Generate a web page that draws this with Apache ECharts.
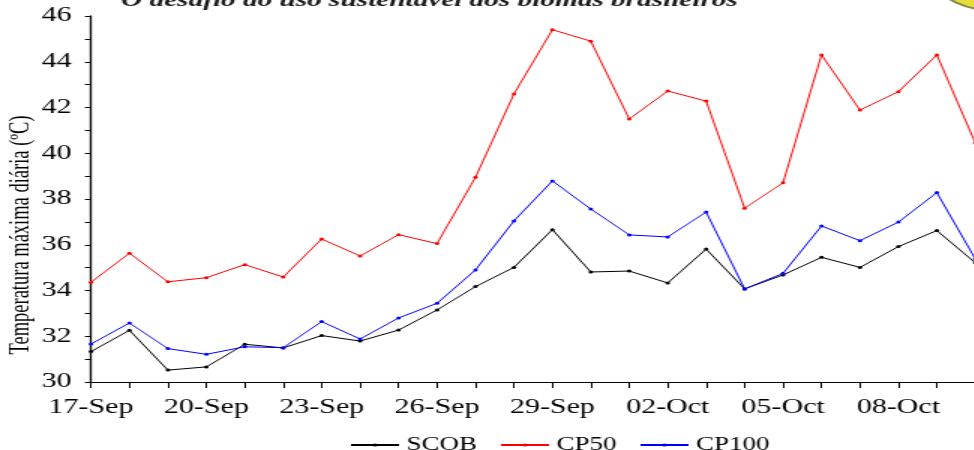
<!DOCTYPE html>
<html>
<head>
<meta charset="utf-8">
<script src="https://cdn.jsdelivr.net/npm/echarts@6/dist/echarts.min.js"></script>
<style>
  html, body { margin: 0; padding: 0; background: #fff; overflow: hidden; width: 974px; height: 450px; }
  /* the chart is laid out narrow and widened horizontally */
  #chart { width: 680px; height: 450px; transform: scaleX(1.5); transform-origin: 0 0; }
</style>
</head>
<body>
<div id="chart"></div>
<script>
// Daily dates
const days = ['17-Sep','18-Sep','19-Sep','20-Sep','21-Sep','22-Sep','23-Sep','24-Sep','25-Sep','26-Sep',
  '27-Sep','28-Sep','29-Sep','30-Sep','01-Oct','02-Oct','03-Oct','04-Oct','05-Oct','06-Oct',
  '07-Oct','08-Oct','09-Oct','10-Oct'];

// Daily maximum temperature (°C) per treatment
const scob = [31.33, 32.26, 30.52, 30.66, 31.65, 31.49, 32.03, 31.79, 32.27, 33.15,
  34.17, 35.01, 36.66, 34.81, 34.85, 34.33, 35.81, 34.07, 34.68, 35.45,
  35.01, 35.92, 36.62, 35.21];
const cp50 = [34.36, 35.63, 34.38, 34.56, 35.13, 34.59, 36.25, 35.51, 36.44, 36.05,
  38.95, 42.59, 45.40, 44.90, 41.50, 42.72, 42.28, 37.60, 38.71, 44.30,
  41.89, 42.69, 44.30, 40.45];
const cp100 = [31.66, 32.58, 31.46, 31.21, 31.54, 31.50, 32.64, 31.88, 32.80, 33.44,
  34.90, 37.04, 38.79, 37.56, 36.43, 36.34, 37.43, 34.07, 34.75, 36.82,
  36.18, 36.99, 38.28, 35.38];

const seriesNames = ['SCOB', 'CP50', 'CP100'];
const seriesColors = ['#000000', '#ff0000', '#0000ff'];
const yAxisName = 'Temperatura máxima diária (ºC)';
const headerText = 'O desafio do uso sustentável dos biomas brasileiros';

const serif = '"Liberation Serif", "Times New Roman", serif';

const chart = echarts.init(document.getElementById('chart'), null, { renderer: 'canvas' });

function lineSeries(name, data, color) {
  return {
    name: name,
    type: 'line',
    data: data,
    symbol: 'circle',
    symbolSize: 3,
    showSymbol: true,
    itemStyle: { color: color },
    lineStyle: { color: color, width: 1 },
    emphasis: { disabled: true }
  };
}

chart.setOption({
  animation: false,
  backgroundColor: '#ffffff',
  grid: { left: 60.67, right: 29.8, top: 16, bottom: 68, containLabel: false, outerBoundsMode: 'none' },
  legend: {
    data: seriesNames,
    left: 228,
    top: 431,
    itemWidth: 32,
    itemHeight: 4,
    itemGap: 15,
    textStyle: { fontFamily: serif, fontSize: 18, color: '#000' }
  },
  xAxis: {
    type: 'category',
    data: days,
    boundaryGap: false,
    axisLine: { lineStyle: { color: '#000', width: 1.2 } },
    axisTick: { show: true, interval: 0, length: 6, lineStyle: { color: '#000', width: 1 } },
    axisLabel: { interval: 2, margin: 16, fontFamily: serif, fontSize: 20, color: '#000' },
    splitLine: { show: false }
  },
  yAxis: {
    type: 'value',
    min: 30,
    max: 46,
    interval: 2,
    axisLine: { show: true, lineStyle: { color: '#000', width: 1.3 } },
    axisTick: { show: true, length: 4, lineStyle: { color: '#000', width: 1 } },
    minorTick: { show: true, splitNumber: 2, length: 4, lineStyle: { color: '#000', width: 1 } },
    axisLabel: { margin: 13, fontFamily: serif, fontSize: 20, color: '#000' },
    splitLine: { show: false }
  },
  graphic: [
    {
      type: 'ellipse',
      shape: { cx: 666, cy: -17, rx: 40, ry: 28 },
      style: { fill: '#e8dc3a', stroke: '#7d8a4a', lineWidth: 2 },
      silent: true
    },
    {
      type: 'text',
      left: 80.7,
      top: -9,
      style: {
        text: headerText,
        font: 'italic bold 19.5px ' + serif,
        fill: '#1a1a1a'
      },
      silent: true
    },
    {
      // vertical axis title
      type: 'text',
      x: 14,
      y: 235,
      rotation: Math.PI / 2,
      style: {
        text: yAxisName,
        font: '18.5px ' + serif,
        fill: '#000',
        align: 'center',
        verticalAlign: 'middle'
      },
      silent: true
    }
  ],
  series: [
    lineSeries(seriesNames[0], scob, seriesColors[0]),
    lineSeries(seriesNames[1], cp50, seriesColors[1]),
    lineSeries(seriesNames[2], cp100, seriesColors[2])
  ]
});
</script>
</body>
</html>
